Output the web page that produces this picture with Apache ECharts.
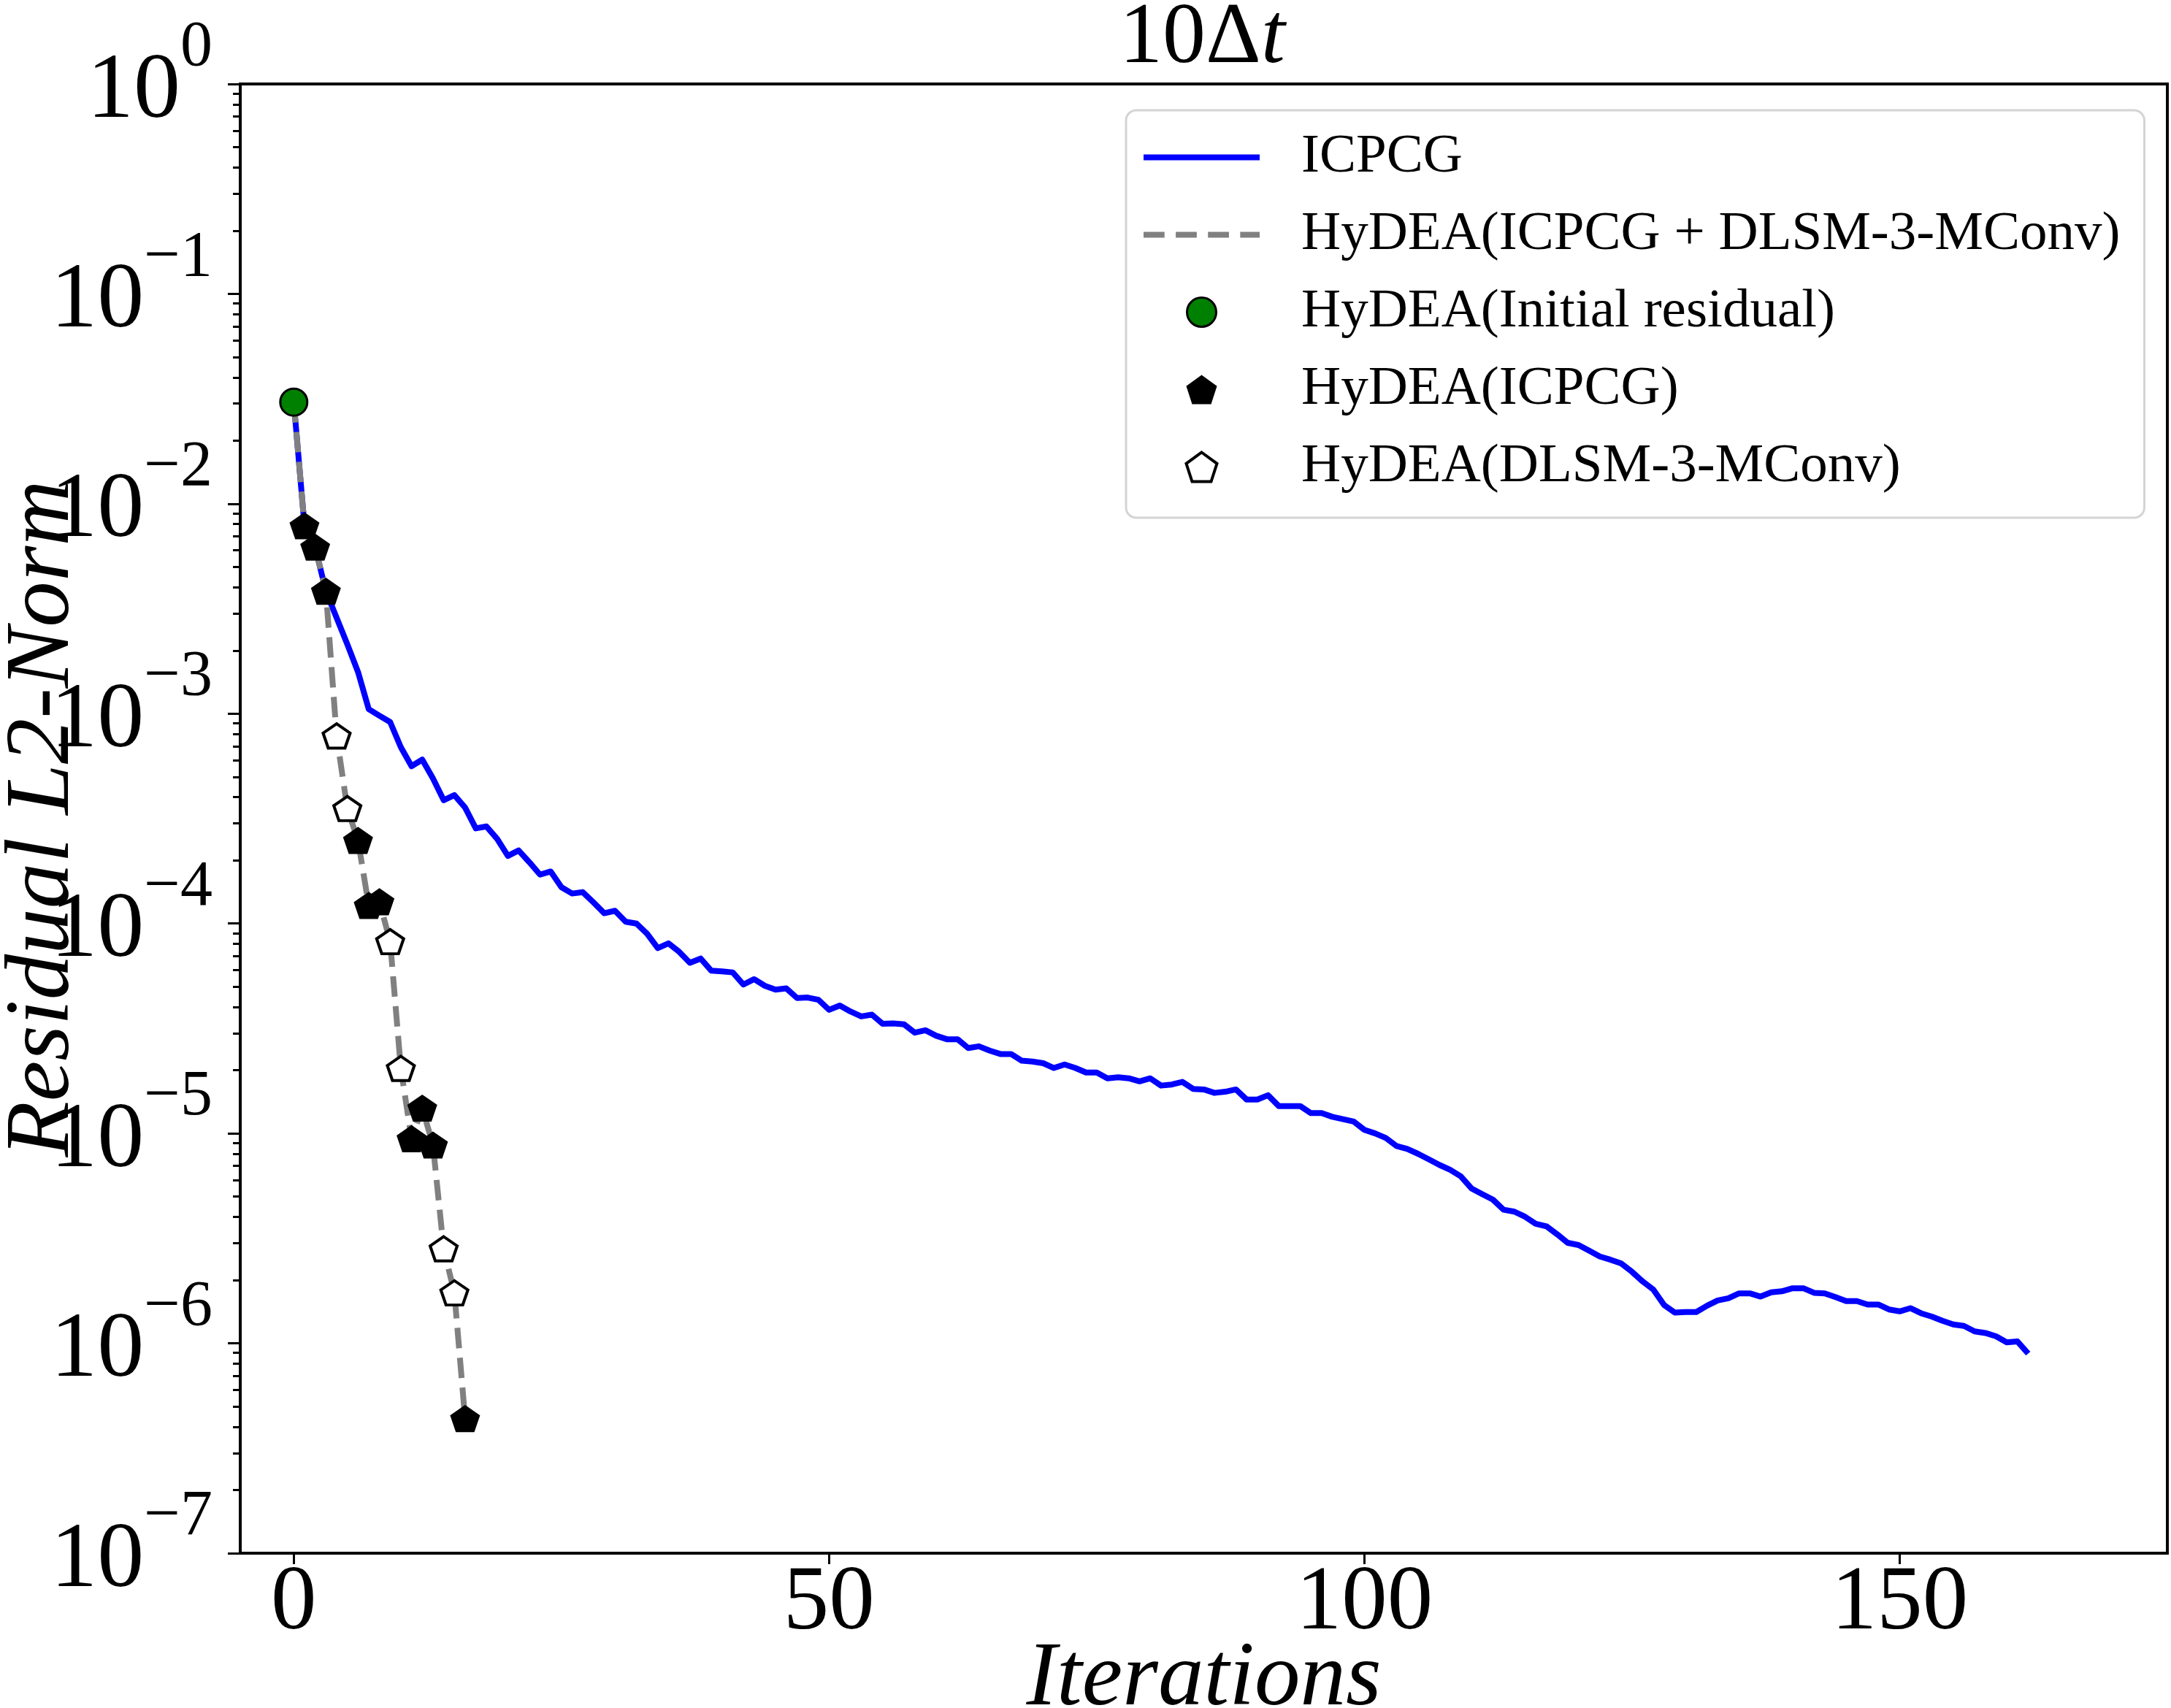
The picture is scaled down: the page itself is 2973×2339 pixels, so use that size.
<!DOCTYPE html>
<html><head><meta charset="utf-8">
<script src="https://cdn.jsdelivr.net/npm/echarts@6/dist/echarts.min.js"></script>
<style>html,body{margin:0;padding:0;background:#fff}#c{width:2973px;height:2339px}</style>
</head><body><div id="c"></div>
<script>
// ICPCG residual per iteration (index = iteration)
const icpcgResidual = [
  3.05e-2, 7.85e-3, 6.21e-3, 3.83e-3, 2.86e-3, 2.14e-3, 1.58e-3, 1.05e-3, 9.77e-4, 9.12e-4,
  6.92e-4, 5.62e-4, 6.04e-4, 4.91e-4, 3.87e-4, 4.09e-4, 3.57e-4, 2.84e-4, 2.90e-4, 2.53e-4,
  2.10e-4, 2.23e-4, 1.96e-4, 1.71e-4, 1.77e-4, 1.49e-4, 1.39e-4, 1.41e-4, 1.26e-4, 1.12e-4,
  1.15e-4, 1.02e-4, 1.00e-4, 8.95e-5, 7.64e-5, 8.05e-5, 7.33e-5, 6.50e-5, 6.81e-5, 5.96e-5,
  5.92e-5, 5.85e-5, 5.12e-5, 5.43e-5, 5.05e-5, 4.84e-5, 4.91e-5, 4.42e-5, 4.44e-5, 4.33e-5,
  3.88e-5, 4.07e-5, 3.81e-5, 3.61e-5, 3.68e-5, 3.33e-5, 3.34e-5, 3.31e-5, 3.02e-5, 3.10e-5,
  2.92e-5, 2.81e-5, 2.81e-5, 2.55e-5, 2.60e-5, 2.48e-5, 2.39e-5, 2.39e-5, 2.22e-5, 2.20e-5,
  2.16e-5, 2.05e-5, 2.13e-5, 2.05e-5, 1.95e-5, 1.95e-5, 1.83e-5, 1.85e-5, 1.83e-5, 1.77e-5,
  1.83e-5, 1.69e-5, 1.71e-5, 1.76e-5, 1.63e-5, 1.62e-5, 1.56e-5, 1.58e-5, 1.62e-5, 1.45e-5,
  1.45e-5, 1.52e-5, 1.35e-5, 1.35e-5, 1.35e-5, 1.25e-5, 1.25e-5, 1.20e-5, 1.17e-5, 1.14e-5,
  1.04e-5, 1.00e-5, 9.51e-6, 8.71e-6, 8.43e-6, 8.00e-6, 7.53e-6, 7.08e-6, 6.71e-6, 6.25e-6,
  5.47e-6, 5.14e-6, 4.84e-6, 4.33e-6, 4.24e-6, 4.01e-6, 3.71e-6, 3.61e-6, 3.31e-6, 3.01e-6,
  2.94e-6, 2.76e-6, 2.59e-6, 2.50e-6, 2.40e-6, 2.19e-6, 1.97e-6, 1.80e-6, 1.52e-6, 1.40e-6,
  1.41e-6, 1.41e-6, 1.51e-6, 1.60e-6, 1.64e-6, 1.73e-6, 1.73e-6, 1.67e-6, 1.75e-6, 1.77e-6,
  1.83e-6, 1.83e-6, 1.74e-6, 1.73e-6, 1.66e-6, 1.59e-6, 1.59e-6, 1.53e-6, 1.53e-6, 1.45e-6,
  1.42e-6, 1.47e-6, 1.39e-6, 1.34e-6, 1.28e-6, 1.23e-6, 1.21e-6, 1.14e-6, 1.12e-6, 1.08e-6,
  1.01e-6, 1.02e-6, 8.93e-7
];

// HyDEA residual per iteration (index = iteration)
const hydeaResidual = [
  3.05e-2, 7.85e-3, 6.21e-3, 3.83e-3, 7.83e-4, 3.53e-4, 2.49e-4, 1.22e-4, 1.27e-4,
  8.20e-5, 2.04e-5, 9.44e-6, 1.32e-5, 8.81e-6, 2.82e-6, 1.74e-6, 4.38e-7
];
// which HyDEA iterations came from which solver
const initialSteps = [0];
const icpcgSteps = [1, 2, 3, 6, 7, 8, 11, 12, 13, 16];
const dlsmSteps = [4, 5, 9, 10, 14, 15];

const xTicks = [0, 50, 100, 150];
const yTickExponents = [-7, -6, -5, -4, -3, -2, -1, 0];

const seriesNames = ['ICPCG', 'HyDEA(ICPCG + DLSM-3-MConv)', 'HyDEA(Initial residual)', 'HyDEA(ICPCG)', 'HyDEA(DLSM-3-MConv)'];

const FONT = 'Liberation Serif';
const PENT = 'path://M0,-1L0.9511,-0.309L0.5878,0.809L-0.5878,0.809L-0.9511,-0.309Z';
const LINE_ICON = 'path://M0,0H159V8H0Z';
const DASH_ICON = 'path://M0,0H28V8H0ZM43,0H71V8H43ZM86,0H114V8H86ZM129,0H155V8H129Z';

const yTickValues = yTickExponents.map(e => Math.pow(10, e));
const yMinor = [];
yTickExponents.slice(0, -1).forEach(e => { for (let k = 2; k <= 9; k++) yMinor.push(k * Math.pow(10, e)); });

const pick = idx => idx.map(i => [i, hydeaResidual[i]]);

const chart = echarts.init(document.getElementById('c'), null, { renderer: 'canvas' });
const ySup = v => {
  const e = Math.round(Math.log10(v));
  return '{b|10}{s|' + (e < 0 ? '\u2212' + (-e) : e) + '}';
};
chart.setOption({
  backgroundColor: '#fff',
  animation: false,
  title: {
    text: '{n|10\u0394}{t|t}',
    left: 1528, top: -10,
    textStyle: { fontWeight: 'normal', rich: {
      n: { fontFamily: FONT, fontSize: 118, fontWeight: 'normal', color: '#000' },
      t: { fontFamily: FONT, fontSize: 118, fontWeight: 'normal', fontStyle: 'italic', color: '#000' }
    } }
  },
  grid: { left: 329, right: 5, top: 115, bottom: 212, containLabel: false, outerBoundsMode: 'none',
          show: true, borderColor: '#000', borderWidth: 4 },
  legend: {
    orient: 'vertical', left: 1542, top: 151,
    padding: [27, 33, 32, 24],
    itemWidth: 159, itemHeight: 40, itemGap: 31, symbolKeepAspect: true,
    backgroundColor: 'rgba(255,255,255,0.8)', borderColor: '#d4d4d4', borderWidth: 3, borderRadius: 14,
    textStyle: { fontFamily: FONT, fontSize: 75, color: '#000', padding: [0, 0, 0, 52] },
    data: [
      { name: seriesNames[0], icon: LINE_ICON, itemStyle: { color: '#0000ff', borderWidth: 0 } },
      { name: seriesNames[1], icon: DASH_ICON, itemStyle: { color: '#808080', borderWidth: 0 } },
      { name: seriesNames[2], icon: 'circle', itemStyle: { color: '#008000', borderColor: '#000', borderWidth: 3 } },
      { name: seriesNames[3], icon: PENT, itemStyle: { color: '#000', borderWidth: 0 } },
      { name: seriesNames[4], icon: PENT, itemStyle: { color: '#fff', borderColor: '#000', borderWidth: 4 } }
    ]
  },
  xAxis: {
    type: 'value', min: -5, max: 175,
    name: 'Iterations', nameLocation: 'middle', nameGap: 112, nameMoveOverlap: false,
    nameTextStyle: { fontFamily: FONT, fontSize: 125, fontStyle: 'italic', color: '#000' },
    axisLine: { onZero: false, lineStyle: { color: '#000', width: 4 } },
    axisTick: { customValues: xTicks, length: 15, lineStyle: { color: '#000', width: 3 } },
    axisLabel: { customValues: xTicks, fontFamily: FONT, fontSize: 125, color: '#000', margin: 8 },
    splitLine: { show: false }
  },
  yAxis: [{
    type: 'log', logBase: 10, min: 1e-7, max: 1,
    name: 'Residual L2-Norm', nameLocation: 'middle', nameGap: 206, nameMoveOverlap: false,
    nameTextStyle: { fontFamily: FONT, fontSize: 125, fontStyle: 'italic', color: '#000' },
    axisLine: { show: true, onZero: false, lineStyle: { color: '#000', width: 4 } },
    axisTick: { customValues: yTickValues, length: 17, lineStyle: { color: '#000', width: 3 } },
    axisLabel: {
      customValues: yTickValues, formatter: ySup, margin: 38, color: '#000', padding: [0, 0, 18, 0],
      rich: {
        b: { fontFamily: FONT, fontSize: 128, lineHeight: 168, verticalAlign: 'bottom', color: '#000' },
        s: { fontFamily: FONT, fontSize: 88, lineHeight: 90, verticalAlign: 'top', color: '#000' }
      }
    },
    splitLine: { show: false }
  }, {
    type: 'log', logBase: 10, min: 1e-7, max: 1, position: 'left',
    axisLine: { show: false, onZero: false },
    axisTick: { show: true, customValues: yMinor, length: 10, lineStyle: { color: '#000', width: 3 } },
    axisLabel: { show: false },
    splitLine: { show: false }
  }],
  series: [
    {
      name: seriesNames[0], type: 'line', symbol: 'none', z: 2,
      data: icpcgResidual.map((v, i) => [i, v]),
      lineStyle: { color: '#0000ff', width: 8, join: 'round' },
      itemStyle: { color: '#0000ff' }
    },
    {
      name: seriesNames[1], type: 'line', symbol: 'none', z: 3,
      data: hydeaResidual.map((v, i) => [i, v]),
      lineStyle: { color: '#808080', width: 8, type: [28, 13], join: 'round' },
      itemStyle: { color: '#808080' }
    },
    {
      name: seriesNames[2], type: 'scatter', z: 5, symbol: 'circle', symbolSize: 37,
      data: pick(initialSteps),
      itemStyle: { color: '#008000', borderColor: '#000', borderWidth: 3, opacity: 1 }
    },
    {
      name: seriesNames[3], type: 'scatter', z: 5, symbol: PENT, symbolSize: [41, 39], symbolKeepAspect: true,
      data: pick(icpcgSteps),
      itemStyle: { color: '#000', opacity: 1 }
    },
    {
      name: seriesNames[4], type: 'scatter', z: 5, symbol: PENT, symbolSize: [37, 35], symbolKeepAspect: true,
      data: pick(dlsmSteps),
      itemStyle: { color: '#fff', borderColor: '#000', borderWidth: 4, opacity: 1 }
    }
  ]
});
</script></body></html>
